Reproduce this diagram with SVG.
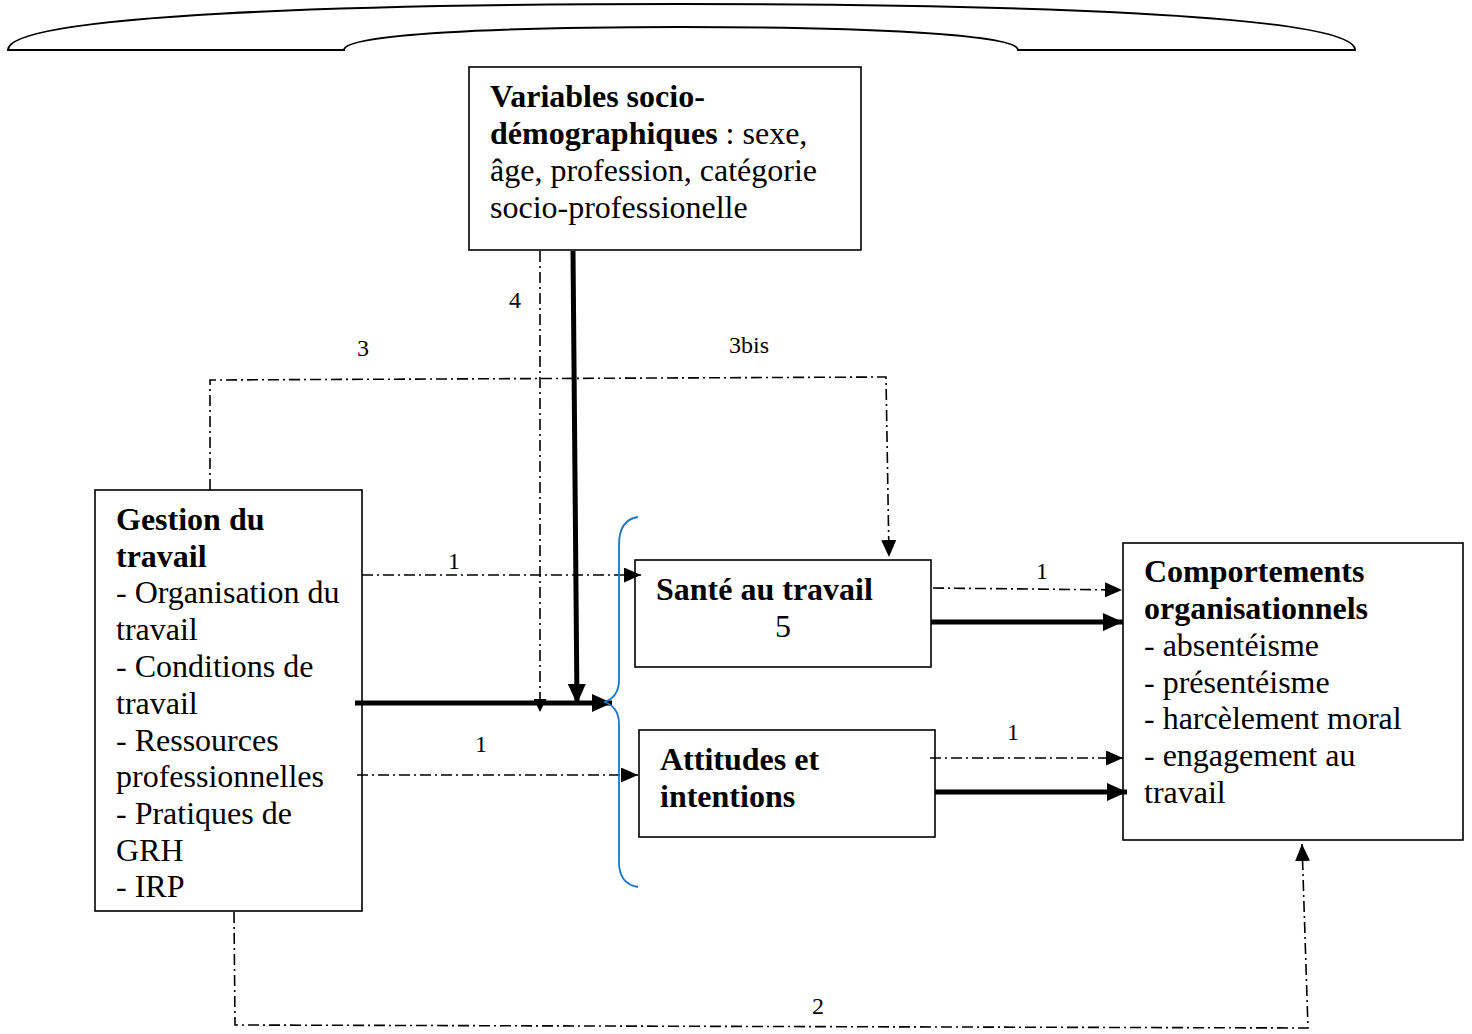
<svg xmlns="http://www.w3.org/2000/svg" width="1472" height="1034" viewBox="0 0 1472 1034">
<style>
.box{fill:#fff;stroke:#000;stroke-width:1.6}
.t{font-family:"Liberation Serif","Times New Roman",serif;font-size:32px;fill:#000}
.b{font-weight:bold}
.lbl{font-family:"Liberation Serif","Times New Roman",serif;font-size:24px;fill:#000}
.dd{fill:none;stroke:#000;stroke-width:1.6;stroke-dasharray:11 4 2 4}
.thick{fill:none;stroke:#000;stroke-width:5}
</style>
<defs>
<marker id="ah" markerUnits="userSpaceOnUse" markerWidth="20" markerHeight="18" refX="20" refY="9" orient="auto">
<path d="M0,0 L20,9 L0,18 z" fill="#000"/>
</marker>
<marker id="at" markerUnits="userSpaceOnUse" markerWidth="17" markerHeight="15" refX="17" refY="7.5" orient="auto">
<path d="M0,0 L17,7.5 L0,15 z" fill="#000"/>
</marker>
<marker id="as" markerUnits="userSpaceOnUse" markerWidth="13" markerHeight="13" refX="13" refY="6.5" orient="auto">
<path d="M0,0 L13,6.5 L0,13 z" fill="#000"/>
</marker>
</defs>

<g id="ribbon">
<path d="M8,50 C8,14 360,4 680,4 C1000,4 1355,14 1355,50 L1018,50 C1018,34 860,27 680,27 C500,27 344,34 344,50 Z" fill="#fff" stroke="#000" stroke-width="2"/>
</g>

<g id="variables">
<rect class="box" x="469" y="67" width="392" height="183"/>
<text class="t" x="490" y="107"><tspan class="b">Variables socio-</tspan></text>
<text class="t" x="490" y="144"><tspan class="b">démographiques</tspan> : sexe,</text>
<text class="t" x="490" y="181">âge, profession, catégorie</text>
<text class="t" x="490" y="218">socio-professionelle</text>
</g>

<g id="gestion">
<rect class="box" x="95" y="490" width="267" height="421"/>
<text class="t b" x="116" y="530">Gestion du</text>
<text class="t b" x="116" y="567">travail</text>
<text class="t" x="116" y="603">- Organisation du</text>
<text class="t" x="116" y="640">travail</text>
<text class="t" x="116" y="677">- Conditions de</text>
<text class="t" x="116" y="714">travail</text>
<text class="t" x="116" y="751">- Ressources</text>
<text class="t" x="116" y="787">professionnelles</text>
<text class="t" x="116" y="824">- Pratiques de</text>
<text class="t" x="116" y="861">GRH</text>
<text class="t" x="116" y="897">- IRP</text>
</g>

<g id="sante">
<rect class="box" x="635" y="560" width="296" height="107"/>
<text class="t b" x="656" y="600">Santé au travail</text>
<text class="t" x="783" y="637" text-anchor="middle">5</text>
</g>

<g id="attitudes">
<rect class="box" x="639" y="730" width="296" height="107"/>
<text class="t b" x="660" y="770">Attitudes et</text>
<text class="t b" x="660" y="807">intentions</text>
</g>

<g id="comportements">
<rect class="box" x="1123" y="543" width="340" height="297"/>
<text class="t b" x="1144" y="582">Comportements</text>
<text class="t b" x="1144" y="619">organisationnels</text>
<text class="t" x="1144" y="656">- absentéisme</text>
<text class="t" x="1144" y="693">- présentéisme</text>
<text class="t" x="1144" y="729">- harcèlement moral</text>
<text class="t" x="1144" y="766">- engagement au</text>
<text class="t" x="1144" y="803">travail</text>
</g>

<g id="connectors">
<line class="dd" x1="540" y1="251" x2="540" y2="712" marker-end="url(#as)"/>
<line class="thick" x1="573" y1="251" x2="577" y2="704" marker-end="url(#ah)"/>
<polyline class="dd" points="210,490 210,380 886,377 889,557" marker-end="url(#at)"/>
<line class="dd" x1="362" y1="575" x2="641" y2="575" marker-end="url(#at)"/>
<line class="thick" x1="355" y1="703" x2="612" y2="703" marker-end="url(#ah)"/>
<line class="dd" x1="357" y1="775" x2="638" y2="775" marker-end="url(#at)"/>
<line class="dd" x1="933" y1="588" x2="1122" y2="590" marker-end="url(#at)"/>
<line class="thick" x1="931" y1="622" x2="1123" y2="622" marker-end="url(#ah)"/>
<line class="dd" x1="930" y1="758" x2="1123" y2="758" marker-end="url(#at)"/>
<line class="thick" x1="935" y1="792" x2="1127" y2="792" marker-end="url(#ah)"/>
<polyline class="dd" points="234,912 235,1025 1308,1028 1302,844" marker-end="url(#at)"/>
<path d="M638,517 C624,519 619,530 619,545 L619,680 C619,693 612,700 604,702 C612,704 619,711 619,724 L619,862 C619,877 625,885 638,887" fill="none" stroke="#1f77c4" stroke-width="1.8"/>
<text class="lbl" x="509" y="308">4</text>
<text class="lbl" x="357" y="356">3</text>
<text class="lbl" x="729" y="353">3bis</text>
<text class="lbl" x="448" y="569">1</text>
<text class="lbl" x="475" y="752">1</text>
<text class="lbl" x="1036" y="579">1</text>
<text class="lbl" x="1007" y="740">1</text>
<text class="lbl" x="812" y="1014">2</text>
</g>
</svg>
